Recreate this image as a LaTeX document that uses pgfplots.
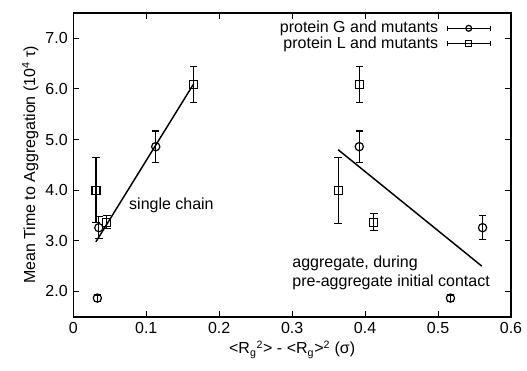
\documentclass[border=0pt]{standalone}
\usepackage{fontspec}
\setmainfont{Liberation Sans}
\usepackage{pgfplots}
\pgfplotsset{compat=1.18}
\usetikzlibrary{arrows.meta}
\begin{document}
\fontsize{12}{14}\selectfont
\begin{tikzpicture}
\begin{axis}[
  name=ax,
  scale only axis,
  width=328.5pt, height=228pt,
  xmin=0, xmax=0.6, ymin=1.5, ymax=7.5,
  xtick={0,0.1,0.2,0.3,0.4,0.5,0.6},
  xticklabels={0,0.1,0.2,0.3,0.4,0.5,0.6},
  ytick={2,3,4,5,6,7},
  yticklabels={2.0,3.0,4.0,5.0,6.0,7.0},
  minor tick num=0,
  tick align=inside,
  major tick length=4.5pt,
  axis line style={line width=1.1pt},
  tick style={line width=0.7pt, black},
  /pgf/number format/assume math mode=true,
  xlabel={<R\textsubscript{g}\textsuperscript{2}> - <R\textsubscript{g}>\textsuperscript{2} (σ)},
  ylabel={Mean Time to Aggregation (10\textsuperscript{4} τ)},
  xlabel style={yshift=3pt},
  ylabel style={yshift=-3pt},
  legend style={draw=none, fill=none, at={(0.955,0.977)}, anchor=north east,
    legend cell align=right, row sep=-1pt, inner sep=0pt, outer sep=0pt,
    column sep=5pt, nodes={inner sep=1pt}},
  legend plot pos=right,
  error bars/error bar style={line width=0.9pt, black},
  error bars/error mark options={rotate=90, mark size=2.8pt, line width=0.9pt, black},
]
\addplot[black, only marks, mark=o, mark size=3.1pt, line width=0.9pt, forget plot,
  error bars/.cd, y dir=both, y explicit]
  coordinates {
  (0.033,1.87) +- (0,0.06)
  (0.035,3.26) +- (0,0.22)
  (0.113,4.86) +- (0,0.31)
  (0.392,4.86) +- (0,0.31)
  (0.517,1.87) +- (0,0.06)
  (0.561,3.26) +- (0,0.24)
  };
\addplot[black, only marks, mark=square, mark size=3pt, line width=0.9pt, forget plot,
  error bars/.cd, y dir=both, y explicit]
  coordinates {
  (0.031,4.00) +- (0,0.64)
  (0.046,3.37) +- (0,0.13)
  (0.165,6.09) +- (0,0.35)
  (0.392,6.09) +- (0,0.35)
  (0.363,4.00) +- (0,0.65)
  (0.412,3.37) +- (0,0.17)
  };
\addplot[black, line width=1.1pt, mark=none, forget plot] coordinates {(0.031,2.98) (0.165,6.10)};
\addplot[black, line width=1.1pt, mark=none, forget plot] coordinates {(0.363,4.80) (0.560,2.50)};
\addlegendimage{black, line width=0.9pt, mark=none,
  legend image code/.code={
    \draw[line width=0.9pt, {Bar[width=4pt]}-{Bar[width=4pt]}] (0pt,0pt) -- (33pt,0pt);
    \draw[line width=0.9pt, mark=o, mark size=2.2pt, mark repeat=2, mark phase=2] plot coordinates {(0pt,0pt)(16.5pt,0pt)(33pt,0pt)};}}
\addlegendentry{protein G and mutants}
\addlegendimage{black, line width=0.9pt, mark=none,
  legend image code/.code={
    \draw[line width=0.9pt, {Bar[width=4pt]}-{Bar[width=4pt]}] (0pt,0pt) -- (33pt,0pt);
    \draw[line width=0.9pt, mark=square, mark size=2.2pt, mark repeat=2, mark phase=2] plot coordinates {(0pt,0pt)(16.5pt,0pt)(33pt,0pt)};}}
\addlegendentry{protein L and mutants}
\node[anchor=west] at (axis cs:0.069,3.71) {single chain};
\node[anchor=west, align=left, inner sep=0pt] at (axis cs:0.30,2.37) {aggregate, during\\pre-aggregate initial contact};
\end{axis}
\pgfresetboundingbox
\path ([shift={(-55pt,-40.5pt)}]ax.south west) rectangle ([shift={(12pt,9.75pt)}]ax.north east);
\end{tikzpicture}
\end{document}
